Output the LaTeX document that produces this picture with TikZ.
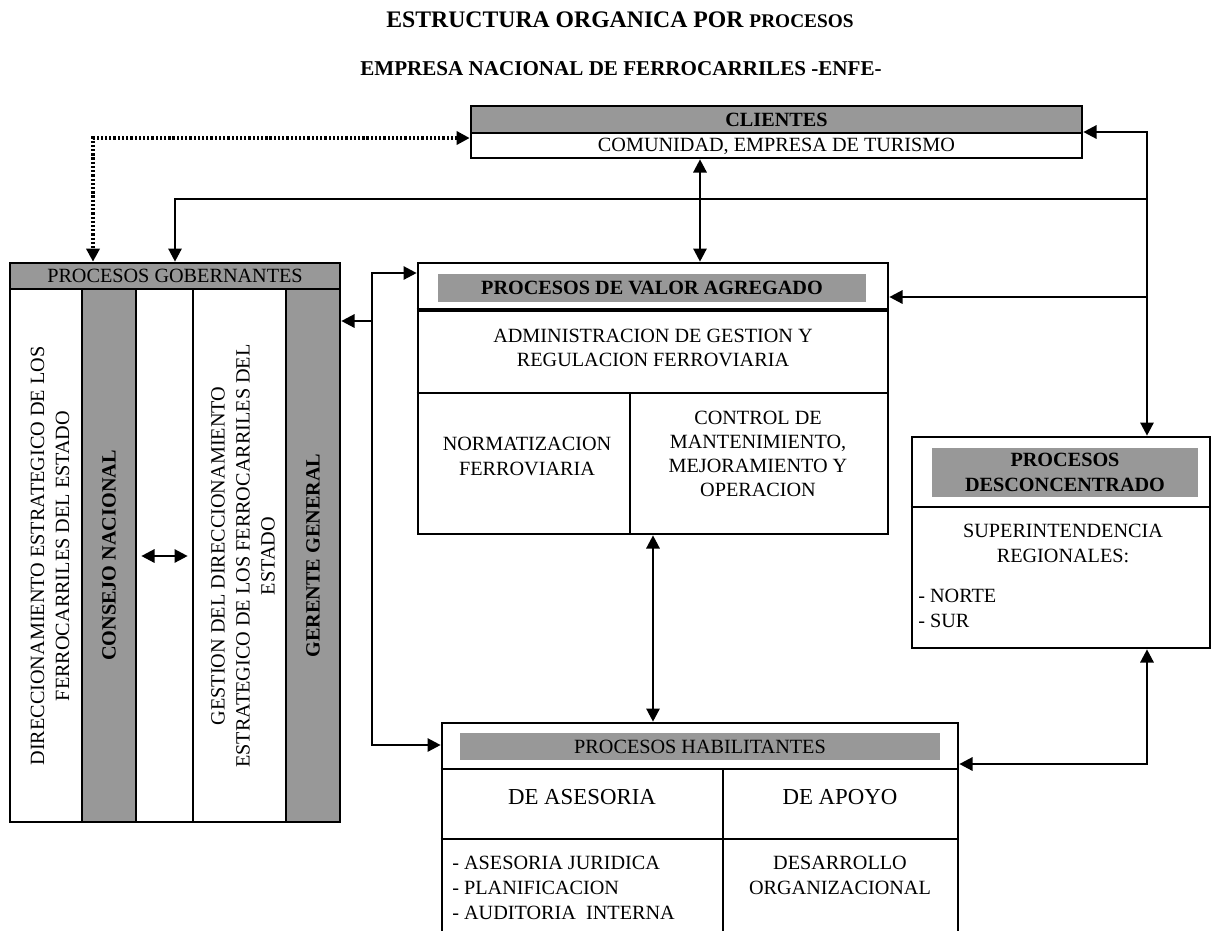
\documentclass[tikz,border=0pt]{standalone}
\usepackage{fontspec}
\setmainfont{Liberation Serif}
\usetikzlibrary{arrows.meta, positioning}
\definecolor{mGray}{HTML}{989898}
\newcommand{\txtsz}{\fontsize{11.5}{13.8}\selectfont}

\begin{document}
\begin{tikzpicture}[x=0.2mm, y=-0.2mm,
    box/.style={draw, line width=1.5pt, inner sep=0pt},
    band/.style={fill=mGray, inner sep=0pt, align=center},
    txt/.style={font=\txtsz, align=center, inner sep=0pt},
    vtxt/.style={txt, rotate=90, font=\fontsize{11.5}{14.2}\selectfont},
    conn/.style={line width=1.4pt},
    dotconn/.style={line width=1.9pt, dash pattern=on 1.3pt off 1.1pt},
    arrowend/.style={-{Triangle[length=7.5pt, width=7.5pt]}},
    dbl/.style={{Triangle[length=7.5pt, width=7.5pt]}-{Triangle[length=7.5pt, width=7.5pt]}}]
    \useasboundingbox (0,0) rectangle (1214,930);

    \node[font=\bfseries\fontsize{13.5}{16}\selectfont, inner sep=0pt] (tit) at (620,20) {ESTRUCTURA ORGANICA POR {\fontsize{11}{13}\selectfont PROCESOS}};
    \node[font=\bfseries\fontsize{12}{14}\selectfont, inner sep=0pt] (sub) at (621,69) {EMPRESA NACIONAL DE FERROCARRILES -ENFE-};

    \node[box, minimum width=122.2mm, minimum height=10.4mm] (cli) at (776.5,132) {};
    \node[band, box, minimum width=122.2mm, minimum height=5.4mm, font=\txtsz\bfseries] (clih) at (776.5,119.5) {CLIENTES};
    \node[txt] (clit) at (776.5,146) {COMUNIDAD, EMPRESA DE TURISMO};

    \node[box, minimum width=66mm, minimum height=111.8mm] (gob) at (175,542.5) {};
    \node[band, box, minimum width=66mm, minimum height=5.2mm, font=\txtsz] (gobh) at (175,276) {PROCESOS GOBERNANTES};
    \node[band, box, minimum width=10.8mm, minimum height=106.6mm] (cons) at (109,555.5) {};
    \node[box, minimum width=18.6mm, minimum height=106.6mm] (gest) at (239.5,555.5) {};
    \node[band, box, minimum width=10.8mm, minimum height=106.6mm] (gere) at (313,555.5) {};
    \node[vtxt] (dirt) at (50,556) {DIRECCIONAMIENTO ESTRATEGICO DE LOS\\FERROCARRILES DEL ESTADO};
    \node[vtxt, font=\txtsz\bfseries] (const) at (cons) {CONSEJO NACIONAL};
    \node[vtxt] (gestt) at (243,556) {GESTION DEL DIRECCIONAMIENTO\\ESTRATEGICO DE LOS FERROCARRILES DEL\\ESTADO};
    \node[vtxt, font=\txtsz\bfseries] (geret) at (gere) {GERENTE GENERAL};

    \node[box, minimum width=94mm, minimum height=54.2mm] (val) at (653,398.5) {};
    \node[band, minimum width=85.6mm, minimum height=5.6mm, font=\txtsz\bfseries] (valh) at (652,287.5) {PROCESOS DE VALOR AGREGADO};
    \draw[line width=2.6pt] (val.west |- 0,310) -- (val.east |- 0,310);
    \draw[line width=1.5pt] (val.west |- 0,393) -- (val.east |- 0,393) (630,393) -- (630,534);
    \node[txt] (adm) at (653,348) {ADMINISTRACION DE GESTION Y\\REGULACION FERROVIARIA};
    \node[txt] (norm) at (527,456.5) {NORMATIZACION\\FERROVIARIA};
    \node[txt] (ctrl) at (758,454) {CONTROL DE\\MANTENIMIENTO,\\MEJORAMIENTO Y\\OPERACION};

    \node[box, minimum width=103.2mm, minimum height=43.4mm] (hab) at (700,831.5) {};
    \node[band, minimum width=96mm, minimum height=5.4mm, font=\txtsz] (habh) at (700,746.5) {PROCESOS HABILITANTES};
    \draw[line width=1.5pt] (hab.west |- 0,769) -- (hab.east |- 0,769) (hab.west |- 0,839) -- (hab.east |- 0,839) (723,769) -- (723,940);
    \node[txt, font=\fontsize{13}{15}\selectfont] (ases) at (582,797) {DE ASESORIA};
    \node[txt, font=\fontsize{13}{15}\selectfont] (apoyo) at (840,797) {DE APOYO};
    \node[txt, anchor=west, align=left, font=\fontsize{11.5}{14.2}\selectfont] (asesl) at (452,888) {- ASESORIA JURIDICA\\- PLANIFICACION\\- AUDITORIA \ INTERNA};
    \node[txt] (desa) at (840,875.5) {DESARROLLO\\ORGANIZACIONAL};

    \node[box, minimum width=59.6mm, minimum height=42.2mm] (desc) at (1061,542.5) {};
    \node[band, minimum width=53.2mm, minimum height=9.8mm, font=\txtsz\bfseries] (desch) at (1065,472.5) {PROCESOS\\DESCONCENTRADO};
    \draw[line width=1.5pt] (desc.west |- 0,507) -- (desc.east |- 0,507);
    \node[txt] (sup) at (1063,543.5) {SUPERINTENDENCIA\\REGIONALES:};
    \node[txt, anchor=west, align=left] (reg) at (918,608.5) {- NORTE\\- SUR};

    \coordinate (dx) at (93,200);
    \coordinate (vx) at (700,200);
    \coordinate (rt) at (1147,300);
    \coordinate (jg) at (1147,199);
    \coordinate (jv) at (1147,297);
    \coordinate (lv) at (372,273);
    \coordinate (lg) at (372,321);
    \coordinate (lh) at (372,745);
    \coordinate (hd) at (1147,764);
    \coordinate (ax) at (160,556);

    \draw[dotconn, dbl] ([yshift=-1.2mm]cli.west) -| (gob.north -| dx);
    \draw[conn, dbl] (cli.east) -| (desc.north -| rt);
    \draw[conn, arrowend] (jg) -| (gob.north);
    \draw[conn, arrowend] (jv) -- (jv -| val.east);
    \draw[conn, dbl] (cli.south -| vx) -- (val.north -| vx);
    \draw[conn, dbl] (val.south) -- (val.south |- hab.north);
    \draw[conn, dbl] (lv -| val.west) -- (lv) -- (lh) -- (lh -| hab.west);
    \draw[conn, arrowend] (lg) -- (lg -| gob.east);
    \draw[conn, dbl] (hab.east |- hd) -- (hd) -- (hd |- desc.south);
    \draw[conn, dbl, shorten <=0.8mm, shorten >=0.8mm] (cons.east |- ax) -- (gest.west |- ax);
\end{tikzpicture}
\end{document}
